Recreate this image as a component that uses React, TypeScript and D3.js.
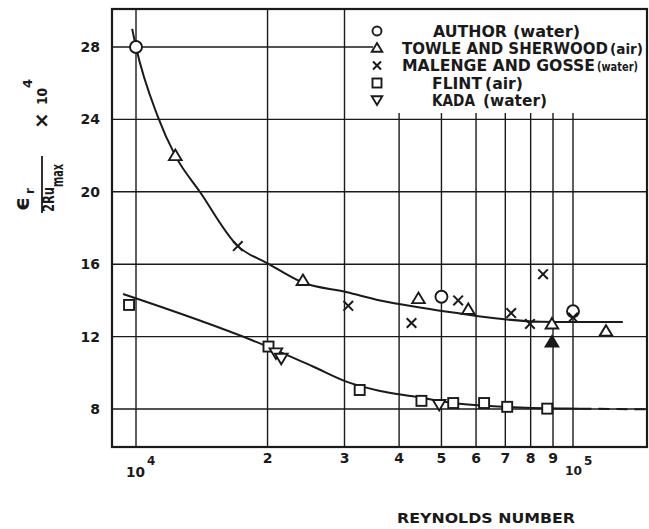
import React from 'react';
import * as d3 from 'd3';

// Grid / ticks
const gridRe = [1e4, 2e4, 3e4, 4e4, 5e4, 6e4, 7e4, 8e4, 9e4, 1e5];
const minorTickRe = [2e4, 3e4, 4e4, 5e4, 6e4, 7e4, 8e4, 9e4];
const minorTickLabels = ['2', '3', '4', '5', '6', '7', '8', '9'];
const yTicks = [8, 12, 16, 20, 24, 28];

// Data (Reynolds number, eps_r/(2R u_max) x 10^4)
const authorRe = [1.0e4, 5.0e4, 1.0e5];
const authorVal = [28.0, 14.2, 13.4];
const towleRe = [1.23e4, 2.41e4, 4.43e4, 5.76e4, 8.95e4, 1.19e5];
const towleVal = [22.0, 15.1, 14.1, 13.5, 12.7, 12.3];
const towleFilledRe = [8.95e4];
const towleFilledVal = [11.7];
const malengeRe = [1.71e4, 3.06e4, 4.27e4, 5.46e4, 7.22e4, 7.97e4, 8.54e4, 1.0e5];
const malengeVal = [17.0, 13.7, 12.75, 14.0, 13.3, 12.7, 15.45, 13.05];
const flintRe = [9.64e3, 2.01e4, 3.25e4, 4.5e4, 5.32e4, 6.26e4, 7.07e4, 8.73e4];
const flintVal = [13.75, 11.45, 9.05, 8.45, 8.33, 8.33, 8.12, 8.02];
const kadaRe = [2.09e4, 2.15e4, 4.94e4];
const kadaVal = [11.1, 10.8, 8.25];

// Fitted curves
const upperCurveRe = [9.8e3, 1.0e4, 1.12e4, 1.23e4, 1.4e4, 1.71e4, 2.0e4, 2.4e4, 3.04e4, 3.62e4, 4.5e4, 5.43e4, 6.88e4, 8.4e4, 1.0e5, 1.3e5];
const upperCurveVal = [29.0, 28.0, 24.2, 22.0, 20.0, 17.0, 16.05, 15.0, 14.45, 14.0, 13.6, 13.3, 12.97, 12.82, 12.8, 12.8];
const lowerCurveRe = [9.34e3, 2.0e4, 2.54e4, 3.04e4, 3.62e4, 4.3e4, 5.43e4, 7.0e4, 9.3e4, 1.04e5];
const lowerCurveVal = [14.35, 11.45, 10.35, 9.5, 9.0, 8.7, 8.3, 8.12, 8.03, 8.02];
const lowerDashRe = [1.04e5, 1.48e5];
const lowerDashVal = [8.02, 7.98];

const legendLabels = ['AUTHOR', 'TOWLE AND SHERWOOD', 'MALENGE AND GOSSE', 'FLINT', 'KADA'];
const legendMedia = ['(water)', '(air)', '(water)', '(air)', '(water)'];

const FONT = '"DejaVu Sans", "Liberation Sans", sans-serif';
const INK = '#1a1a1a';

const frame = { left: 112, right: 647, top: 9, bottom: 447 };
const x = d3.scaleLog().domain([1e4, 1e5]).range([136, 573]);
const y = d3.scaleLinear().domain([8, 28]).range([409, 47]);

const zip = (a: number[], b: number[]) => a.map((v, i) => [v, b[i]] as [number, number]);
const line = d3
  .line<[number, number]>()
  .x((d) => x(d[0]))
  .y((d) => y(d[1]))
  .curve(d3.curveMonotoneX);
const straight = d3
  .line<[number, number]>()
  .x((d) => x(d[0]))
  .y((d) => y(d[1]));

const triUp = (cx: number, cy: number, s = 6) =>
  `M${cx},${cy - s} L${cx + s * 1.05},${cy + s * 0.75} L${cx - s * 1.05},${cy + s * 0.75} Z`;
const triDown = (cx: number, cy: number, s = 6) =>
  `M${cx},${cy + s} L${cx + s * 1.05},${cy - s * 0.75} L${cx - s * 1.05},${cy - s * 0.75} Z`;

function Marker({ kind, cx, cy, small = false, filled = false }: any) {
  const sw = 1.9;
  if (kind === 'circle')
    return <circle cx={cx} cy={cy} r={small ? 4.5 : 6} fill="white" stroke={INK} strokeWidth={sw} />;
  if (kind === 'tri')
    return <path d={triUp(cx, cy, small ? 5 : 6)} fill={filled ? INK : 'white'} stroke={INK} strokeWidth={sw} />;
  if (kind === 'tridown')
    return <path d={triDown(cx, cy, small ? 5 : 6)} fill="white" stroke={INK} strokeWidth={sw} />;
  if (kind === 'square') {
    const h = small ? 4.5 : 5;
    return <rect x={cx - h} y={cy - h} width={2 * h} height={2 * h} fill="white" stroke={INK} strokeWidth={sw} />;
  }
  const h = small ? 4 : 4.8;
  return (
    <g stroke={INK} strokeWidth={2}>
      <line x1={cx - h} y1={cy - h} x2={cx + h} y2={cy + h} />
      <line x1={cx - h} y1={cy + h} x2={cx + h} y2={cy - h} />
    </g>
  );
}

const legendKinds = ['circle', 'tri', 'cross', 'square', 'tridown'];
const legendRowY = [31, 48, 65.5, 83, 100];
const legendTextX = [433, 402, 402, 432, 432];
const legendTextW = [74, 206, 193, 50, 43];
const legendMediaX = [513, 610, 597, 485, 483];
const legendMediaW = [67, 33, 41, 38, 64];
const legendMediaSize = [15, 14, 12.5, 15, 15];

export default function App() {
  return (
    <svg
      width={649}
      height={529}
      style={{ position: 'absolute', left: 0, top: 0, background: 'white' }}
      fontFamily={FONT}
      fontWeight="bold"
    >
      <rect x={0} y={0} width={649} height={529} fill="white" />
      {/* horizontal grid */}
      {yTicks.map((t) => (
        <line key={'h' + t} x1={frame.left} x2={frame.right} y1={y(t)} y2={y(t)} stroke={INK} strokeWidth={1.4} />
      ))}
      {/* vertical grid */}
      {gridRe.map((g) => (
        <line key={'v' + g} x1={x(g)} x2={x(g)} y1={frame.top} y2={frame.bottom} stroke={INK} strokeWidth={1.4} />
      ))}
      {/* legend box (covers grid) */}
      <rect x={373} y={frame.top + 1} width={frame.right - 374} height={103} fill="white" />
      {/* frame */}
      <rect
        x={frame.left}
        y={frame.top}
        width={frame.right - frame.left}
        height={frame.bottom - frame.top}
        fill="none"
        stroke={INK}
        strokeWidth={2.2}
      />
      {/* curves */}
      <path d={line(zip(upperCurveRe, upperCurveVal)) || ''} fill="none" stroke={INK} strokeWidth={2} />
      <path d={line(zip(lowerCurveRe, lowerCurveVal)) || ''} fill="none" stroke={INK} strokeWidth={2} />
      <path
        d={straight(zip(lowerDashRe, lowerDashVal)) || ''}
        fill="none"
        stroke={INK}
        strokeWidth={2}
        strokeDasharray="11,7"
      />
      {/* markers */}
      {zip(flintRe, flintVal).map((d, i) => (
        <Marker key={'f' + i} kind="square" cx={x(d[0])} cy={y(d[1])} />
      ))}
      {zip(kadaRe, kadaVal).map((d, i) => (
        <Marker key={'k' + i} kind="tridown" cx={x(d[0])} cy={y(d[1])} />
      ))}
      {zip(towleRe, towleVal).map((d, i) => (
        <Marker key={'t' + i} kind="tri" cx={x(d[0])} cy={y(d[1])} />
      ))}
      {zip(towleFilledRe, towleFilledVal).map((d, i) => (
        <Marker key={'tf' + i} kind="tri" filled cx={x(d[0])} cy={y(d[1])} />
      ))}
      {zip(authorRe, authorVal).map((d, i) => (
        <Marker key={'a' + i} kind="circle" cx={x(d[0])} cy={y(d[1])} />
      ))}
      {zip(malengeRe, malengeVal).map((d, i) => (
        <Marker key={'m' + i} kind="cross" cx={x(d[0])} cy={y(d[1])} />
      ))}
      {/* legend */}
      {legendLabels.map((lab, i) => (
        <g key={'lg' + i} fill={INK}>
          <Marker kind={legendKinds[i]} small cx={377} cy={legendRowY[i]} />
          <text
            x={legendTextX[i]}
            y={legendRowY[i] + 5.5}
            fontSize={15}
            textLength={legendTextW[i]}
            lengthAdjust="spacingAndGlyphs"
          >
            {lab}
          </text>
          <text
            x={legendMediaX[i]}
            y={legendRowY[i] + 5.5}
            fontSize={legendMediaSize[i]}
            textLength={legendMediaW[i]}
            lengthAdjust="spacingAndGlyphs"
          >
            {legendMedia[i]}
          </text>
        </g>
      ))}
      {/* y tick labels */}
      {yTicks.map((t) => (
        <text key={'yl' + t} x={100} y={y(t) + 5} fontSize={14} textAnchor="end" fill={INK}>
          {t}
        </text>
      ))}
      {/* x tick labels */}
      {minorTickRe.map((g, i) => (
        <text key={'xl' + g} x={x(g)} y={463} fontSize={14} textAnchor="middle" fill={INK}>
          {minorTickLabels[i]}
        </text>
      ))}
      <g fill={INK}>
        <text x={126} y={477} fontSize={14} textLength={19} lengthAdjust="spacingAndGlyphs">10</text>
        <text x={147} y={465} fontSize={12}>4</text>
        <text x={565} y={475} fontSize={13} textLength={17} lengthAdjust="spacingAndGlyphs">10</text>
        <text x={584} y={465} fontSize={12}>5</text>
      </g>
      {/* x axis title */}
      <text x={397} y={523} fontSize={14} fill={INK} textLength={178} lengthAdjust="spacingAndGlyphs">
        REYNOLDS  NUMBER
      </text>
      {/* y axis title */}
      <g transform="translate(42,213) rotate(-90)" fill={INK}>
        <line x1={0} y1={0} x2={57} y2={0} stroke={INK} strokeWidth={1.8} />
        <text x={2} y={-13} fontSize={22}>ϵ</text>
        <text x={19} y={-8} fontSize={12}>r</text>
        <text x={1} y={11.5} fontSize={15} textLength={25} lengthAdjust="spacingAndGlyphs">2Ru</text>
        <text x={26} y={21} fontSize={15} textLength={23} lengthAdjust="spacingAndGlyphs">max</text>
        <text x={84} y={6} fontSize={20}>×</text>
        <text x={108} y={5} fontSize={14} textLength={17} lengthAdjust="spacingAndGlyphs">10</text>
        <text x={125} y={-10} fontSize={13}>4</text>
      </g>
    </svg>
  );
}
